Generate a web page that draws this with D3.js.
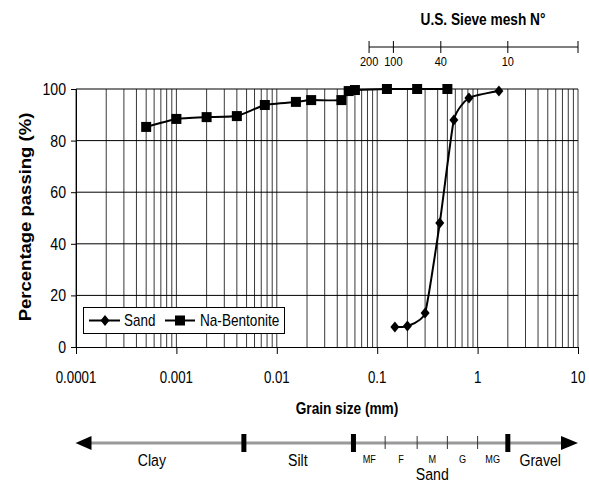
<!DOCTYPE html>
<html>
<head>
<meta charset="utf-8">
<script src="https://cdn.jsdelivr.net/npm/d3@7"></script>
<style>
  body { margin: 0; background: #fff; }
  svg { display: block; }
  text { font-family: "Liberation Sans", Arial, sans-serif; fill: #000; }
</style>
</head>
<body>
<svg id="chart" width="589" height="482"></svg>
<script>
// grain size (mm) and percent passing
var sandSize = [0.15, 0.2, 0.3, 0.42, 0.58, 0.82, 1.63];
var sandPass = [7.8, 8.1, 13.2, 48.1, 88.0, 96.5, 99.2];

var bentSize = [0.0005, 0.001, 0.002, 0.004, 0.0076, 0.0155, 0.022, 0.044, 0.052, 0.06, 0.125, 0.25, 0.5];
var bentPass = [85.3, 88.4, 89.1, 89.5, 93.8, 95.0, 95.7, 95.7, 99.2, 99.6, 100, 100, 100];

var yTicks = [0, 20, 40, 60, 80, 100];
var xTicks = [0.0001, 0.001, 0.01, 0.1, 1, 10];
var xTickLabels = ["0.0001", "0.001", "0.01", "0.1", "1", "10"];

// US sieve numbers and where they sit on the grain size axis
var sieveNo = ["200", "100", "40", "10", ""];
var sieveSize = [0.083, 0.145, 0.43, 2.0, 10];

// soil classes
var mainBounds = [0.0047, 0.058, 2.0];
var sandBounds = [0.058, 0.12, 0.25, 0.5, 1.0, 2.0];
var sandSub = ["MF", "F", "M", "G", "MG"];
var mainNames = ["Clay", "Silt", "Gravel"];
var mainNamePos = [0.00057, 0.0162, 4.2];

var svg = d3.select("#chart");

var x = d3.scaleLog().domain([0.0001, 10]).range([76, 578]);
var y = d3.scaleLinear().domain([0, 100]).range([347, 89]);

// text is drawn a bit narrow, like the original
function label(g, px, py, s, size, anchor, bold, sx) {
	return g.append("text")
		.attr("transform", "translate(" + px + "," + py + ") scale(" + (sx || 0.83) + ",1)")
		.attr("text-anchor", anchor || "middle")
		.attr("font-size", size + "px")
		.attr("font-weight", bold ? "bold" : "normal")
		.text(s);
}

// grid
var minor = [];
for (var e = -4; e < 1; e++) {
	for (var k = 1; k < 10; k++) minor.push(k * Math.pow(10, e));
}
minor.push(10);

svg.append("g").selectAll("line")
	.data(minor)
	.enter()
	.append("line")
	.attr("x1", d => x(d)).attr("x2", d => x(d))
	.attr("y1", y(100)).attr("y2", y(0))
	.style("stroke", "#222")
	.style("stroke-width", 0.9);

svg.append("g").selectAll("line")
	.data(yTicks.slice(1))
	.enter()
	.append("line")
	.attr("x1", x.range()[0]).attr("x2", x.range()[1])
	.attr("y1", d => y(d)).attr("y2", d => y(d))
	.style("stroke", "#000")
	.style("stroke-width", 1);

// axes
var yAxis = svg.append("g").attr("transform", "translate(" + x.range()[0] + ",0)")
	.call(d3.axisLeft(y).tickValues(yTicks).tickSize(5).tickFormat(""));
var xAxis = svg.append("g").attr("transform", "translate(0," + y(0) + ")")
	.call(d3.axisBottom(x).tickValues(xTicks).tickSize(7).tickFormat(""));
[yAxis, xAxis].forEach(function(a) {
	a.select(".domain").style("stroke", "#000");
	a.selectAll(".tick line").style("stroke", "#000");
});

yTicks.forEach(function(t) {
	label(svg, 66, y(t) + 6, t, 17, "end");
});
xTicks.forEach(function(t, i) {
	label(svg, x(t), 383, xTickLabels[i], 16, "middle");
});

label(svg, 347, 414, "Grain size (mm)", 16.5, "middle", true);

svg.append("text")
	.attr("transform", "translate(31,217) scale(0.85,1) rotate(-90)")
	.attr("text-anchor", "middle")
	.attr("font-size", "18.5px")
	.attr("font-weight", "bold")
	.text("Percentage passing (%)");

// sieve axis on top
var sy = 47;
var sieve = svg.append("g");
sieve.append("line")
	.attr("x1", x(sieveSize[0])).attr("x2", x(sieveSize[sieveSize.length - 1]))
	.attr("y1", sy).attr("y2", sy)
	.style("stroke", "#000");
sieve.selectAll(".st")
	.data(sieveSize)
	.enter()
	.append("line")
	.attr("x1", d => x(d)).attr("x2", d => x(d))
	.attr("y1", sy - 6).attr("y2", sy + 6)
	.style("stroke", "#000");
sieveSize.forEach(function(s, i) {
	label(sieve, x(s), 66, sieveNo[i], 12.5, "middle", false, 0.88);
});
label(sieve, 483, 25, "U.S. Sieve mesh N\u00b0", 16.5, "middle", true);

// curves (smoothed like a spreadsheet chart)
var line = d3.line()
	.x(d => x(d[0]))
	.y(d => y(d[1]))
	.curve(d3.curveCardinal.tension(0.5));

var sand = d3.zip(sandSize, sandPass);
var bent = d3.zip(bentSize, bentPass);

svg.append("path").datum(bent).attr("d", line)
	.style("fill", "none").style("stroke", "#000").style("stroke-width", 2);
svg.append("path").datum(sand).attr("d", line)
	.style("fill", "none").style("stroke", "#000").style("stroke-width", 2);

var diamond = "M0,-5.5L4.5,0L0,5.5L-4.5,0Z";

svg.append("g").selectAll("path")
	.data(sand)
	.enter()
	.append("path")
	.attr("d", diamond)
	.attr("transform", d => "translate(" + x(d[0]) + "," + y(d[1]) + ")")
	.style("fill", "#000");

svg.append("g").selectAll("rect")
	.data(bent)
	.enter()
	.append("rect")
	.attr("x", d => x(d[0]) - 5)
	.attr("y", d => y(d[1]) - 5)
	.attr("width", 10).attr("height", 10)
	.style("fill", "#000");

// legend
var lg = svg.append("g");
lg.append("rect")
	.attr("x", 83.5).attr("y", 307.5).attr("width", 201).attr("height", 26)
	.style("fill", "#fff").style("stroke", "#000");
lg.append("line").attr("x1", 89).attr("x2", 120).attr("y1", 320.5).attr("y2", 320.5)
	.style("stroke", "#000").style("stroke-width", 2);
lg.append("path").attr("d", diamond).attr("transform", "translate(105,320.5)");
label(lg, 124, 326, "Sand", 16, "start", false, 0.84);
lg.append("line").attr("x1", 165).attr("x2", 195).attr("y1", 320.5).attr("y2", 320.5)
	.style("stroke", "#000").style("stroke-width", 2);
lg.append("rect").attr("x", 175).attr("y", 315.5).attr("width", 10).attr("height", 10);
label(lg, 200, 326, "Na-Bentonite", 16, "start", false, 0.85);

// soil class scale
var cy = 443;
var cls = svg.append("g");
cls.append("line")
	.attr("x1", x.range()[0] + 10).attr("x2", x.range()[1] - 10)
	.attr("y1", cy).attr("y2", cy)
	.style("stroke", "#999").style("stroke-width", 3);
cls.append("path")
	.attr("d", "M" + (x.range()[0] - 0.5) + "," + cy + "L" + (x.range()[0] + 15.5) + "," + (cy - 7) + "L" + (x.range()[0] + 15.5) + "," + (cy + 7) + "Z");
cls.append("path")
	.attr("d", "M" + x.range()[1] + "," + cy + "L" + (x.range()[1] - 17) + "," + (cy - 7) + "L" + (x.range()[1] - 17) + "," + (cy + 7) + "Z");

cls.selectAll(".thin")
	.data(sandBounds.slice(1, -1))
	.enter()
	.append("line")
	.attr("x1", d => x(d)).attr("x2", d => x(d))
	.attr("y1", cy - 7).attr("y2", cy + 6)
	.style("stroke", "#333");

cls.selectAll(".thick")
	.data(mainBounds)
	.enter()
	.append("rect")
	.attr("x", d => x(d) - 2.5)
	.attr("y", cy - 9)
	.attr("width", 5).attr("height", 18)
	.style("fill", "#000");

mainNames.forEach(function(n, i) {
	label(cls, x(mainNamePos[i]), 466, n, 17, "middle");
});
sandSub.forEach(function(n, i) {
	var mx = (x(sandBounds[i]) + x(sandBounds[i + 1])) / 2;
	label(cls, mx, 463, n, 11, "middle");
});
label(cls, (x(sandBounds[2]) + x(sandBounds[3])) / 2, 480, "Sand", 17, "middle");
</script>
</body>
</html>
